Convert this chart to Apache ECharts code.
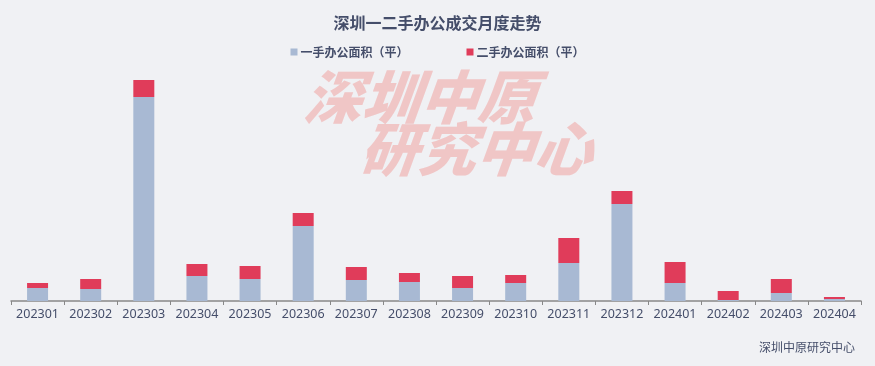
<!DOCTYPE html>
<html>
<head>
<meta charset="utf-8">
<script src="https://cdn.jsdelivr.net/npm/echarts@6/dist/echarts.min.js"></script>
<style>
html,body{margin:0;padding:0;background:#f0f1f4;}
#c{width:875px;height:366px;}
</style>
</head>
<body>
<div id="c"></div>
<script>
var categories = ['202301','202302','202303','202304','202305','202306','202307','202308','202309','202310','202311','202312','202401','202402','202403','202404'];
var firstHand = [13000,12000,204000,25000,22000,75000,21000,19000,13000,18000,38000,97000,18000,1000,8000,2000];
var secondHand = [5000,10000,17000,12000,13000,13000,13000,9000,12000,8000,25000,13000,21000,9000,14000,2000];
var seriesNames = ['一手办公面积（平）','二手办公面积（平）'];

var textColor = '#454e6a';
var chart = echarts.init(document.getElementById('c'));
chart.setOption({
  backgroundColor: '#f0f1f4',
  animation: false,
  title: {
    text: '深圳一二手办公成交月度走势',
    left: 'center',
    top: 10,
    textStyle: {fontSize: 16, fontWeight: 'bold', color: textColor, fontFamily: 'Noto Sans CJK SC'}
  },
  legend: {
    top: 41,
    left: 'center',
    itemWidth: 7,
    itemHeight: 7,
    itemGap: 58,
    icon: 'rect',
    textStyle: {fontSize: 12, fontWeight: 'bold', color: textColor, fontFamily: 'Noto Sans CJK SC', padding: [0,0,0,-2]},
    data: seriesNames
  },
  graphic: [
    {type: 'text', left: 300, top: 68, z: -10, skewX: -0.35,
     style: {text: '深圳中原', fontSize: 58, fontWeight: 900, fill: '#f0c6c6', fontFamily: 'Noto Sans CJK SC'}},
    {type: 'text', left: 356, top: 120, z: -10, skewX: -0.35,
     style: {text: '研究中心', fontSize: 58, fontWeight: 900, fill: '#f0c6c6', fontFamily: 'Noto Sans CJK SC'}},
    {type: 'text', right: 20, top: 341,
     style: {text: '深圳中原研究中心', fontSize: 12, fill: textColor, fontFamily: 'Noto Sans CJK SC'}}
  ],
  grid: {left: 11, right: 14, top: 80, bottom: 65},
  xAxis: {
    type: 'category',
    data: categories,
    axisLine: {show: true, lineStyle: {color: '#888', width: 1.5}},
    axisTick: {show: true, interval: 0, lineStyle: {color: '#888'}, length: 4},
    axisLabel: {interval: 0, color: textColor, fontSize: 12.5, margin: 7, fontFamily: 'Noto Sans'}
  },
  yAxis: {
    type: 'value', min: 0, max: 221000, show: false, splitLine: {show: false}
  },
  series: [
    {name: seriesNames[0], type: 'bar', stack: 's', barWidth: 21, data: firstHand, itemStyle: {color: '#a8b9d3'}},
    {name: seriesNames[1], type: 'bar', stack: 's', barWidth: 21, data: secondHand, itemStyle: {color: '#e03c5a'}}
  ]
});
</script>
</body>
</html>
